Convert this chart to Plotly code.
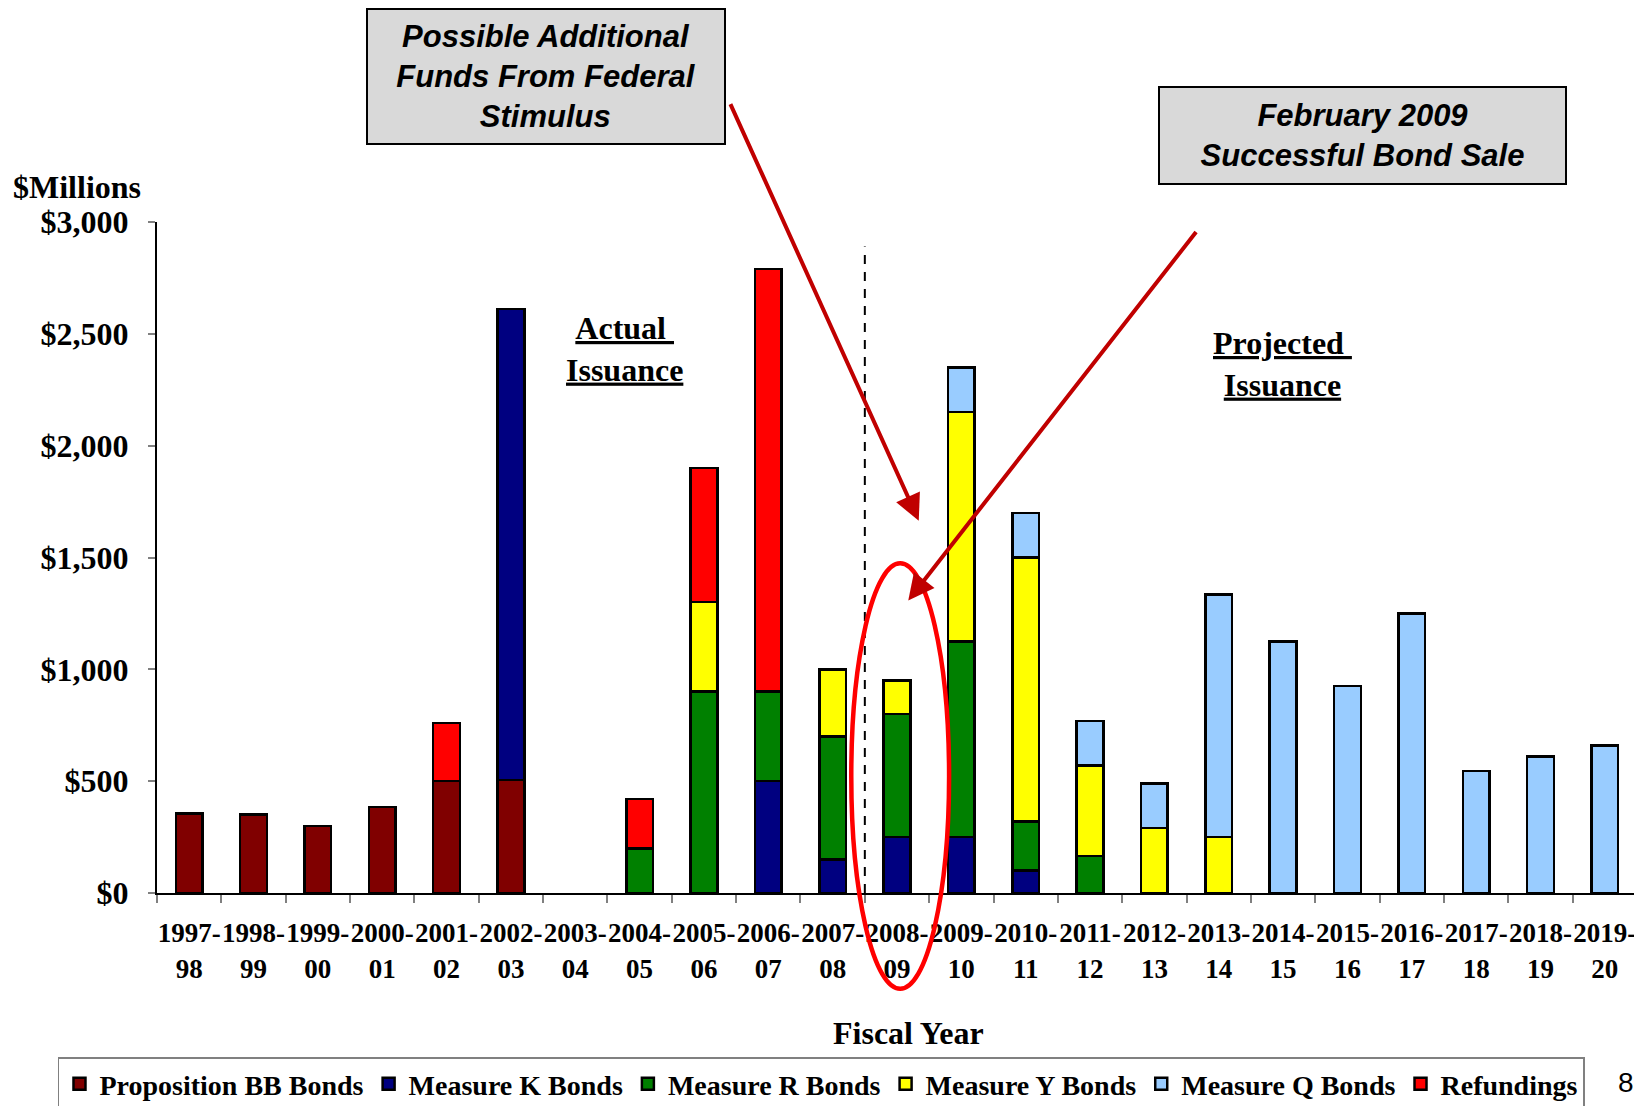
import plotly.graph_objects as go

# ---------------- data ----------------
years = ["1997-<br>98", "1998-<br>99", "1999-<br>00", "2000-<br>01", "2001-<br>02", "2002-<br>03",
         "2003-<br>04", "2004-<br>05", "2005-<br>06", "2006-<br>07", "2007-<br>08", "2008-<br>09",
         "2009-<br>10", "2010-<br>11", "2011-<br>12", "2012-<br>13", "2013-<br>14", "2014-<br>15",
         "2015-<br>16", "2016-<br>17", "2017-<br>18", "2018-<br>19", "2019-<br>20"]

prop_bb = [355, 350, 300, 385, 500, 505, None, None, None, None, None, None,
           None, None, None, None, None, None, None, None, None, None, None]
measure_k = [None, None, None, None, None, 2105, None, None, None, 500, 150, 250,
             250, 100, None, None, None, None, None, None, None, None, None]
measure_r = [None, None, None, None, None, None, None, 200, 900, 400, 550, 550,
             875, 220, 165, None, None, None, None, None, None, None, None]
measure_y = [None, None, None, None, None, None, None, None, 400, None, 300, 150,
             1025, 1180, 405, 290, 250, None, None, None, None, None, None]
measure_q = [None, None, None, None, None, None, None, None, None, None, None, None,
             200, 200, 200, 200, 1085, 1125, 925, 1250, 545, 610, 660]
refundings = [None, None, None, None, 260, None, None, 220, 600, 1890, None, None,
              None, None, None, None, None, None, None, None, None, None, None]

series_names = ["Proposition BB Bonds", "Measure K Bonds", "Measure R Bonds",
                "Measure Y Bonds", "Measure Q Bonds", "Refundings"]
series_values = [prop_bb, measure_k, measure_r, measure_y, measure_q, refundings]
series_colors = ["#800000", "#000080", "#008000", "#FFFF00", "#99CCFF", "#FF0000"]

y_ticks = [0, 500, 1000, 1500, 2000, 2500, 3000]
y_tick_text = ["$0", "$500", "$1,000", "$1,500", "$2,000", "$2,500", "$3,000"]

SERIF = "Liberation Serif"
SANS = "Liberation Sans"

fig = go.Figure()
for name, vals, col in zip(series_names, series_values, series_colors):
    fig.add_trace(go.Bar(
        x=years, y=vals, name=name,
        marker=dict(color=col, line=dict(color="black", width=2.5)),
    ))

n = len(years)
# page body has an 8px default margin, so the figure is drawn 8px smaller/offset
W, H = 1634, 1098
ml, mr, mt, mb = 149, 5, 214, 213

fig.update_layout(
    width=W, height=H,
    barmode="stack", bargap=0.585,
    plot_bgcolor="white", paper_bgcolor="white",
    margin=dict(l=ml, r=mr, t=mt, b=mb, pad=0, autoexpand=False),
    font=dict(family=SERIF, color="black"),
    legend=dict(
        orientation="h", x=-0.0669, xanchor="left", y=-0.2451, yanchor="top",
        bordercolor="#808080", borderwidth=1.5, bgcolor="white",
        font=dict(family=SERIF, size=28, weight="bold", color="black"),
        itemwidth=30, traceorder="normal",
    ),
    xaxis=dict(
        type="category", range=[-0.5, n - 0.5], tickson="boundaries", tickangle=0,
        ticks="outside", ticklen=8, tickcolor="#808080", tickwidth=1.5,
        showline=True, linecolor="black", linewidth=2, showgrid=False, automargin=False,
        tickfont=dict(family=SERIF, size=27, weight="bold", color="black"),
        ticklabelstandoff=15,
    ),
    yaxis=dict(
        range=[0, 3000], tickvals=y_ticks, ticktext=y_tick_text,
        ticks="outside", ticklen=7, tickcolor="#808080", tickwidth=1.5,
        showline=True, linecolor="black", linewidth=2, showgrid=False, zeroline=False,
        automargin=False,
        tickfont=dict(family=SERIF, size=32, weight="bold", color="black"),
        ticklabelstandoff=13,
    ),
    showlegend=True,
)

# dashed divider between actual and projected issuance
fig.add_shape(type="line", xref="x", yref="y", x0=10.5, x1=10.5, y0=0, y1=2890,
              line=dict(color="black", width=2, dash="9px,8px"))

# red ellipse around 2008-09
fig.add_shape(type="circle", xref="x domain", yref="y domain",
              x0=0.4691, x1=0.5352, y0=-0.1427, y1=0.4913,
              line=dict(color="#FF0000", width=4.5))

# text labels
fig.add_annotation(xref="paper", yref="paper", x=-0.0967, y=1.0496, xanchor="left", yanchor="middle",
                   text="$Millions", showarrow=False, xshift=-3, yshift=2,
                   font=dict(family=SERIF, size=32, weight="bold", color="black"))
fig.add_annotation(xref="paper", yref="paper", x=0.5081, y=-0.2112, xanchor="center", yanchor="middle",
                   text="Fiscal Year", showarrow=False, yshift=2,
                   font=dict(family=SERIF, size=32, weight="bold", color="black"))
fig.add_annotation(xref="paper", yref="paper", x=0.3157, y=0.8112, xanchor="center", yanchor="middle",
                   text="<u>Actual </u><br><u>Issuance</u>", showarrow=False,
                   font=dict(family=SERIF, size=32, weight="bold", color="black"))
fig.add_annotation(xref="paper", yref="paper", x=0.7603, y=0.788, xanchor="center", yanchor="middle",
                   text="<u>Projected </u><br><u>Issuance</u>", showarrow=False,
                   font=dict(family=SERIF, size=32, weight="bold", color="black"))

# call-out boxes
fig.add_annotation(xref="paper", yref="paper", x=0.2626, y=1.2165, xanchor="center", yanchor="middle",
                   text="<b><i>Possible Additional<br>Funds From Federal<br>Stimulus</i></b>",
                   showarrow=False, width=354, height=131, borderpad=1,
                   bgcolor="#D9D9D9", bordercolor="black", borderwidth=2,
                   font=dict(family=SANS, size=31, color="black"))
fig.add_annotation(xref="paper", yref="paper", x=0.8144, y=1.129, xanchor="center", yanchor="middle",
                   text="<b><i>February 2009<br>Successful Bond Sale</i></b>",
                   showarrow=False, width=403, height=93, borderpad=1,
                   bgcolor="#D9D9D9", bordercolor="black", borderwidth=2,
                   font=dict(family=SANS, size=31, color="black"))

# arrows
fig.add_annotation(xref="paper", yref="paper", x=0.5147, y=0.5549, ax=-189, ay=-418,
                   text="", showarrow=True, arrowhead=2, arrowsize=1.3, arrowwidth=4,
                   arrowcolor="#C00000")
fig.add_annotation(xref="paper", yref="paper", x=0.5076, y=0.4359, ax=289, ay=-370,
                   text="", showarrow=True, arrowhead=2, arrowsize=1.3, arrowwidth=4,
                   arrowcolor="#C00000")

# page number
fig.add_annotation(xref="paper", yref="paper", x=1.0, y=-0.2827, xanchor="right", yanchor="middle",
                   text="8", showarrow=False, xshift=-1,
                   font=dict(family=SANS, size=28, color="black"))

fig.write_html("out.html")
